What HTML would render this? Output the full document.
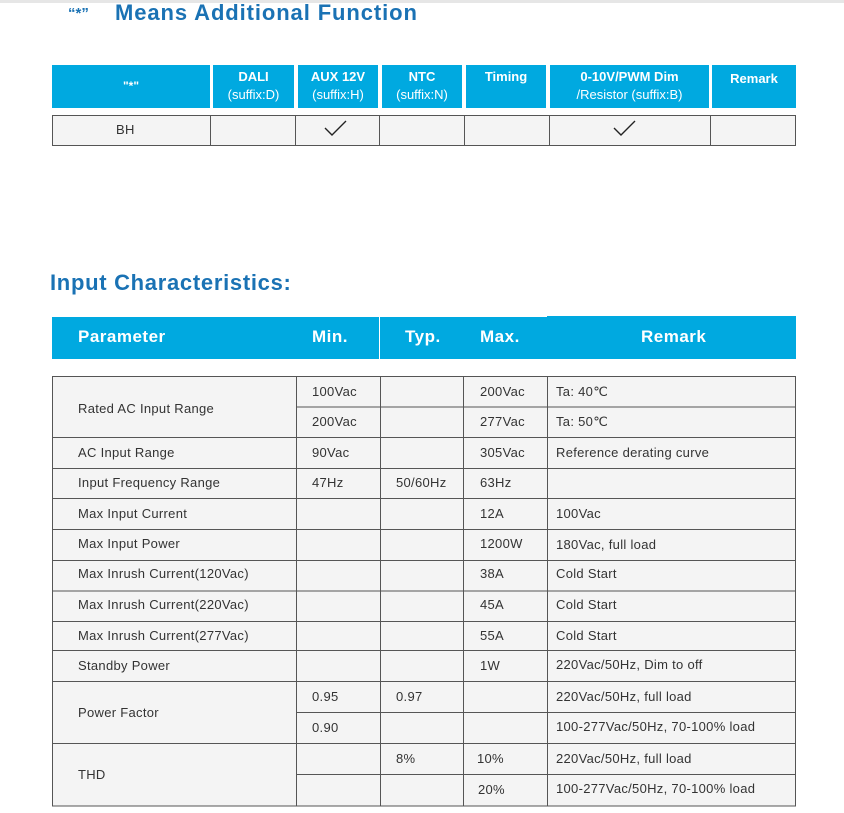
<!DOCTYPE html>
<html><head><meta charset="utf-8"><style>
body{margin:0;width:844px;height:813px;background:#fff;position:relative;overflow:hidden;font-family:"Liberation Sans",sans-serif;}
.a{position:absolute;white-space:nowrap;}
.h{position:absolute;background:#00a9e0;color:#fff;font-weight:bold;text-align:center;}
.t{position:absolute;font-size:13px;color:#333;white-space:nowrap;letter-spacing:0.3px;}
</style></head><body>
<div class="a" style="left:0;top:0;width:844px;height:3px;background:#e6e6e6"></div>
<div class="a" style="left:68px;top:0px;font-size:15px;font-weight:bold;color:#1a72b4;top:5px">“*”</div>
<div class="a" style="left:115px;top:0px;font-size:22px;font-weight:bold;color:#1a72b4;letter-spacing:0.9px">Means Additional Function</div>

<div class="h" style="left:52px;top:65px;width:158px;height:43px;line-height:43px;font-size:12px">"*"</div>
<div class="h" style="left:213px;top:65px;width:81px;height:43px;font-size:13px;line-height:18px;padding-top:3px;box-sizing:border-box">DALI<br><span style="font-weight:normal">(suffix:D)</span></div>
<div class="h" style="left:298px;top:65px;width:80px;height:43px;font-size:13px;line-height:18px;padding-top:3px;box-sizing:border-box">AUX 12V<br><span style="font-weight:normal">(suffix:H)</span></div>
<div class="h" style="left:382px;top:65px;width:80px;height:43px;font-size:13px;line-height:18px;padding-top:3px;box-sizing:border-box">NTC<br><span style="font-weight:normal">(suffix:N)</span></div>
<div class="h" style="left:466px;top:65px;width:80px;height:43px;font-size:13px;line-height:18px;padding-top:3px;box-sizing:border-box">Timing</div>
<div class="h" style="left:550px;top:65px;width:159px;height:43px;font-size:13px;line-height:18px;padding-top:3px;box-sizing:border-box">0-10V/PWM Dim<br><span style="font-weight:normal">/Resistor (suffix:B)</span></div>
<div class="h" style="left:712px;top:65px;width:84px;height:43px;font-size:13px;line-height:18px;padding-top:5px;box-sizing:border-box">Remark</div>

<svg class="a" style="left:0;top:0" width="844" height="813">
<rect x="52.5" y="115.5" width="743" height="30" fill="#f4f4f4" stroke="#555"/>
<g stroke="#555"><line x1="210.5" y1="115" x2="210.5" y2="146"/><line x1="295.5" y1="115" x2="295.5" y2="146"/><line x1="379.5" y1="115" x2="379.5" y2="146"/><line x1="464.5" y1="115" x2="464.5" y2="146"/><line x1="549.5" y1="115" x2="549.5" y2="146"/><line x1="710.5" y1="115" x2="710.5" y2="146"/></g>
<polyline points="325,128 332,135 346,121" fill="none" stroke="#222" stroke-width="1.4"/>
<polyline points="614,128 621,135 635,121" fill="none" stroke="#222" stroke-width="1.4"/>

<rect x="52.5" y="376.5" width="743" height="429.5" fill="#f4f4f4" stroke="#555"/>
<g stroke="#555">
<line x1="296.5" y1="376" x2="296.5" y2="806"/><line x1="380.5" y1="376" x2="380.5" y2="806"/><line x1="463.5" y1="376" x2="463.5" y2="806"/><line x1="547.5" y1="376" x2="547.5" y2="806"/>
<line x1="296" y1="407" x2="796" y2="407"/>
<line x1="52" y1="437.5" x2="796" y2="437.5"/>
<line x1="52" y1="468.5" x2="796" y2="468.5"/>
<line x1="52" y1="498.5" x2="796" y2="498.5"/>
<line x1="52" y1="529.5" x2="796" y2="529.5"/>
<line x1="52" y1="560.5" x2="796" y2="560.5"/>
<line x1="52" y1="591" x2="796" y2="591"/>
<line x1="52" y1="621.5" x2="796" y2="621.5"/>
<line x1="52" y1="650.5" x2="796" y2="650.5"/>
<line x1="52" y1="681.5" x2="796" y2="681.5"/>
<line x1="296" y1="712.5" x2="796" y2="712.5"/>
<line x1="52" y1="743.5" x2="796" y2="743.5"/>
<line x1="296" y1="774.5" x2="796" y2="774.5"/>
</g>
</svg>
<div class="t" style="left:116px;top:122px;font-size:13px">BH</div>

<div class="a" style="left:50px;top:270px;font-size:22px;font-weight:bold;color:#1a72b4;letter-spacing:0.7px">Input Characteristics:</div>
<div class="h" style="left:52px;top:317px;width:327px;height:42px"></div>
<div class="h" style="left:380px;top:317px;width:167px;height:42px"></div>
<div class="h" style="left:547px;top:316px;width:249px;height:43px"></div>
<div class="a" style="left:78px;top:327px;color:#fff;font-weight:bold;font-size:17px;letter-spacing:0.5px">Parameter</div>
<div class="a" style="left:312px;top:327px;color:#fff;font-weight:bold;font-size:17px;letter-spacing:0.5px">Min.</div>
<div class="a" style="left:405px;top:327px;color:#fff;font-weight:bold;font-size:17px;letter-spacing:0.5px">Typ.</div>
<div class="a" style="left:480px;top:327px;color:#fff;font-weight:bold;font-size:17px;letter-spacing:0.5px">Max.</div>
<div class="a" style="left:641px;top:327px;color:#fff;font-weight:bold;font-size:17px;letter-spacing:0.5px">Remark</div>

<div class="t" style="left:78px;top:401px">Rated AC Input Range</div>
<div class="t" style="left:312px;top:384px">100Vac</div><div class="t" style="left:480px;top:384px">200Vac</div><div class="t" style="left:556px;top:384px">Ta: 40℃</div>
<div class="t" style="left:312px;top:414px">200Vac</div><div class="t" style="left:480px;top:414px">277Vac</div><div class="t" style="left:556px;top:414px">Ta: 50℃</div>
<div class="t" style="left:78px;top:445px">AC Input Range</div><div class="t" style="left:312px;top:445px">90Vac</div><div class="t" style="left:480px;top:445px">305Vac</div><div class="t" style="left:556px;top:445px">Reference derating curve</div>
<div class="t" style="left:78px;top:475px">Input Frequency Range</div><div class="t" style="left:312px;top:475px">47Hz</div><div class="t" style="left:396px;top:475px">50/60Hz</div><div class="t" style="left:480px;top:475px">63Hz</div>
<div class="t" style="left:78px;top:506px">Max Input Current</div><div class="t" style="left:480px;top:506px">12A</div><div class="t" style="left:556px;top:506px">100Vac</div>
<div class="t" style="left:78px;top:536px">Max Input Power</div><div class="t" style="left:480px;top:536px">1200W</div><div class="t" style="left:556px;top:537px">180Vac, full load</div>
<div class="t" style="left:78px;top:566px">Max Inrush Current(120Vac)</div><div class="t" style="left:480px;top:566px">38A</div><div class="t" style="left:556px;top:566px">Cold Start</div>
<div class="t" style="left:78px;top:597px">Max Inrush Current(220Vac)</div><div class="t" style="left:480px;top:597px">45A</div><div class="t" style="left:556px;top:597px">Cold Start</div>
<div class="t" style="left:78px;top:628px">Max Inrush Current(277Vac)</div><div class="t" style="left:480px;top:628px">55A</div><div class="t" style="left:556px;top:628px">Cold Start</div>
<div class="t" style="left:78px;top:658px">Standby Power</div><div class="t" style="left:480px;top:658px">1W</div><div class="t" style="left:556px;top:657px">220Vac/50Hz, Dim to off</div>
<div class="t" style="left:78px;top:705px">Power Factor</div>
<div class="t" style="left:312px;top:689px">0.95</div><div class="t" style="left:396px;top:689px">0.97</div><div class="t" style="left:556px;top:689px">220Vac/50Hz, full load</div>
<div class="t" style="left:312px;top:720px">0.90</div><div class="t" style="left:556px;top:719px">100-277Vac/50Hz, 70-100% load</div>
<div class="t" style="left:78px;top:767px">THD</div>
<div class="t" style="left:396px;top:751px">8%</div><div class="t" style="left:477px;top:751px">10%</div><div class="t" style="left:556px;top:751px">220Vac/50Hz, full load</div>
<div class="t" style="left:478px;top:782px">20%</div><div class="t" style="left:556px;top:781px">100-277Vac/50Hz, 70-100% load</div>
</body></html>
